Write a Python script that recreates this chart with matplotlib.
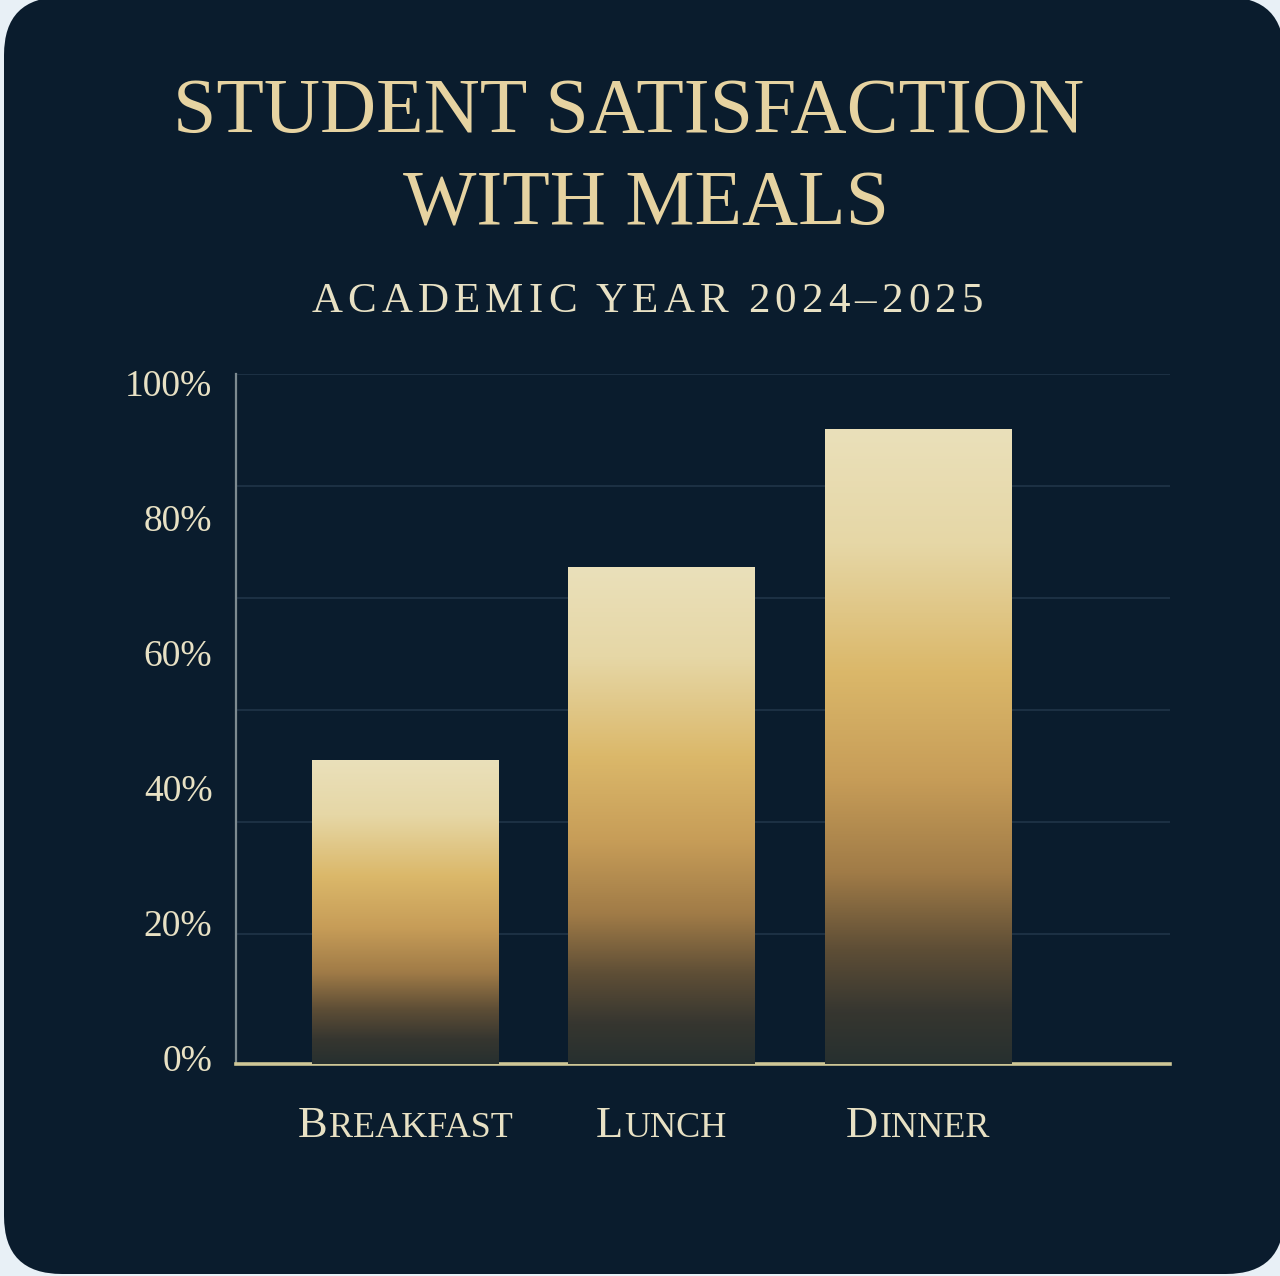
import numpy as np
import matplotlib
matplotlib.use('Agg')
import matplotlib.pyplot as plt
from matplotlib.colors import LinearSegmentedColormap
from matplotlib.patches import FancyBboxPatch
from matplotlib.offsetbox import TextArea, HPacker, AnnotationBbox
from matplotlib.transforms import blended_transform_factory

# data
meals = ['Breakfast', 'Lunch', 'Dinner']
satisfaction = [44, 72, 92]
yTickLabels = ['0%', '20%', '40%', '60%', '80%', '100%']
titleLines = ['STUDENT SATISFACTION', 'WITH MEALS']
subtitle = 'ACADEMIC YEAR 2024\u20132025'

plt.rcParams['font.family'] = ['Liberation Serif', 'DejaVu Serif']

NAVY = '#0A1C2D'
CREAM = '#E8E1C4'
GOLD_TEXT = '#E6D3A1'
W, H = 1280, 1276


def figY(py):
    """pixel row from the top -> figure fraction"""
    return 1 - py / H


def trackedText(s, size, sep, wordSep):
    """letter-spaced text built from single characters"""
    words = []
    for w in s.split(' '):
        chars = [TextArea(c, textprops=dict(size=size, color=CREAM)) for c in w]
        words.append(HPacker(children=chars, align='baseline', pad=0, sep=sep))
    return HPacker(children=words, align='baseline', pad=0, sep=wordSep)


def smallCaps(word, bigSize, smallSize):
    parts = [TextArea(word[0].upper(), textprops=dict(size=bigSize, color=CREAM)),
             TextArea(word[1:].upper(), textprops=dict(size=smallSize, color=CREAM))]
    return HPacker(children=parts, align='baseline', pad=0, sep=1)


fig = plt.figure(figsize=(W / 100, H / 100), dpi=100, facecolor='#E8F0F6')
panel = FancyBboxPatch((0.04, 0.02), 12.8, 12.77,
                       boxstyle='round,pad=0,rounding_size=0.58',
                       transform=fig.dpi_scale_trans, facecolor=NAVY,
                       edgecolor='none', zorder=-5)
fig.patches.append(panel)

ax = fig.add_axes([236 / W, figY(1064), (1170 - 236) / W, (1064 - 374) / H])
ax.set_facecolor('none')

x = np.arange(len(meals))
bars = ax.bar(x, satisfaction, width=0.726, color='none', edgecolor='none', zorder=3)

gold = LinearSegmentedColormap.from_list('gold', [
    (0.00, '#EAE0BA'), (0.18, '#E6D7A6'), (0.38, '#DBB86A'), (0.55, '#C79D58'),
    (0.70, '#A07B47'), (0.82, '#5E4E36'), (0.92, '#363630'), (1.00, '#27302F')])
grad = np.linspace(0, 1, 256).reshape(-1, 1)
for bar in bars:
    x0, w, h = bar.get_x(), bar.get_width(), bar.get_height()
    im = ax.imshow(grad, extent=(x0, x0 + w, 0, h), cmap=gold, aspect='auto', zorder=3)
    im.set_clip_path(bar)

ax.set_xlim(-0.660, 2.984)
ax.set_ylim(0, 100)

# labels and gridlines do not share positions in the original
ax.set_yticks(np.linspace(0.9, 98.7, len(yTickLabels)), yTickLabels)
ax.set_yticks(100 - 16.23 * np.arange(6), minor=True)
ax.yaxis.grid(True, which='minor', color='#1E3346', lw=1.3)
ax.yaxis.grid(False, which='major')
ax.set_axisbelow(True)
ax.tick_params(axis='y', which='both', length=0, pad=17, labelsize=27, labelcolor=CREAM)
ax.set_xticks([])

for side in ['top', 'right']:
    ax.spines[side].set_visible(False)
ax.spines['left'].set_color('#7D8A90')
ax.spines['left'].set_linewidth(1.6)
ax.spines['bottom'].set_color('#CFC796')
ax.spines['bottom'].set_linewidth(2.6)

# category labels in small caps
trans = blended_transform_factory(ax.transData, fig.transFigure)
for xi, meal in zip(x, meals):
    ab = AnnotationBbox(smallCaps(meal, 32, 26), (xi, figY(1126)), xycoords=trans,
                        frameon=False, box_alignment=(0.5, 0.5))
    fig.add_artist(ab)

fig.text(629 / W, figY(132), titleLines[0], ha='center', va='baseline', size=56, color=GOLD_TEXT)
fig.text(646 / W, figY(225), titleLines[1], ha='center', va='baseline', size=56, color=GOLD_TEXT)

sub = AnnotationBbox(trackedText(subtitle, 31, 3.7, 14), (647 / W, figY(302)),
                     xycoords='figure fraction', frameon=False, box_alignment=(0.5, 0.5))
fig.add_artist(sub)

fig.savefig('out.png', dpi=100, facecolor=fig.get_facecolor())
